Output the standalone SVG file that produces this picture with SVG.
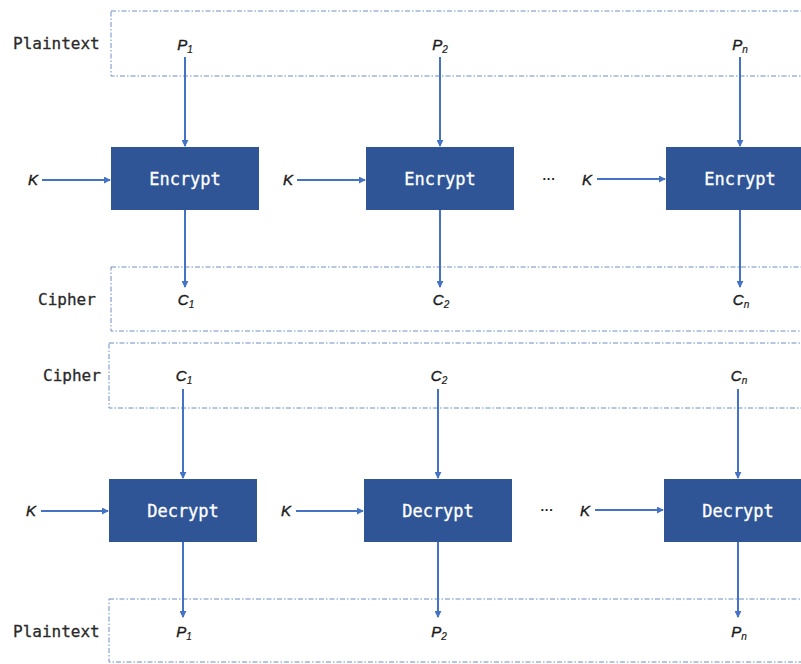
<svg xmlns="http://www.w3.org/2000/svg" width="801" height="664" viewBox="0 0 801 664">
  <defs>
    <marker id="arrow" viewBox="0 0 8 8" refX="7" refY="4" markerWidth="7" markerHeight="7" markerUnits="userSpaceOnUse" orient="auto">
      <path d="M0,0 L8,4 L0,8 z" fill="#4472C4"/>
    </marker>
    <style>
      .frame { fill: none; stroke: #6F8CC4; stroke-width: 1; stroke-dasharray: 5 2 1.5 2; }
      .box { fill: #2F5597; }
      .boxlabel { font-family: "DejaVu Sans Mono", "Liberation Mono", monospace; font-size: 17px; fill: #FFFFFF; text-anchor: middle; stroke: #FFFFFF; stroke-width: 0.3; }
      .rowlabel { font-family: "DejaVu Sans Mono", "Liberation Mono", monospace; font-size: 16px; fill: #2A2A2A; stroke: #2A2A2A; stroke-width: 0.3; }
      .sym { font-family: "Liberation Sans", Arial, sans-serif; font-style: italic; font-size: 15px; fill: #1A1A1A; text-anchor: middle; stroke: #1A1A1A; stroke-width: 0.4; }
      .sub { font-size: 10px; stroke-width: 0.2; }
      .dots { font-family: "Liberation Sans", Arial, sans-serif; font-weight: bold; font-size: 13px; fill: #1A1A1A; text-anchor: middle; }
      .link { stroke: #4472C4; stroke-width: 2; fill: none; marker-end: url(#arrow); }
    </style>
  </defs>

  <!-- dash-dot frames for each data row -->
  <g id="frames">
    <rect class="frame" x="111" y="11" width="720" height="65"/>
    <rect class="frame" x="111" y="267" width="720" height="64"/>
    <rect class="frame" x="109" y="343" width="720" height="65"/>
    <rect class="frame" x="109" y="599" width="720" height="63"/>
  </g>

  <!-- row labels -->
  <g id="row-labels">
    <text class="rowlabel" x="13" y="49">Plaintext</text>
    <text class="rowlabel" x="38" y="305">Cipher</text>
    <text class="rowlabel" x="43" y="381">Cipher</text>
    <text class="rowlabel" x="13" y="637">Plaintext</text>
  </g>

  <!-- encryption stage -->
  <g id="enc1">
    <rect class="box" x="111" y="147" width="148" height="63"/>
    <text class="boxlabel" x="185" y="185">Encrypt</text>
  </g>
  <g id="enc2">
    <rect class="box" x="366" y="147" width="148" height="63"/>
    <text class="boxlabel" x="440" y="185">Encrypt</text>
  </g>
  <g id="enc3">
    <rect class="box" x="666" y="147" width="148" height="63"/>
    <text class="boxlabel" x="740" y="185">Encrypt</text>
  </g>

  <!-- decryption stage -->
  <g id="dec1">
    <rect class="box" x="109" y="479" width="148" height="63"/>
    <text class="boxlabel" x="183" y="517">Decrypt</text>
  </g>
  <g id="dec2">
    <rect class="box" x="364" y="479" width="148" height="63"/>
    <text class="boxlabel" x="438" y="517">Decrypt</text>
  </g>
  <g id="dec3">
    <rect class="box" x="664" y="479" width="148" height="63"/>
    <text class="boxlabel" x="738" y="517">Decrypt</text>
  </g>

  <!-- symbols: plaintext blocks, cipher blocks, keys -->
  <g id="symbols">
    <text class="sym" x="185" y="50">P<tspan class="sub" dy="3">1</tspan></text>
    <text class="sym" x="440" y="50">P<tspan class="sub" dy="3">2</tspan></text>
    <text class="sym" x="740" y="50">P<tspan class="sub" dy="3">n</tspan></text>

    <text class="sym" x="186" y="305">C<tspan class="sub" dy="3">1</tspan></text>
    <text class="sym" x="441" y="305">C<tspan class="sub" dy="3">2</tspan></text>
    <text class="sym" x="741" y="305">C<tspan class="sub" dy="3">n</tspan></text>

    <text class="sym" x="184" y="381">C<tspan class="sub" dy="3">1</tspan></text>
    <text class="sym" x="439" y="381">C<tspan class="sub" dy="3">2</tspan></text>
    <text class="sym" x="739" y="381">C<tspan class="sub" dy="3">n</tspan></text>

    <text class="sym" x="184" y="637">P<tspan class="sub" dy="3">1</tspan></text>
    <text class="sym" x="439" y="637">P<tspan class="sub" dy="3">2</tspan></text>
    <text class="sym" x="739" y="637">P<tspan class="sub" dy="3">n</tspan></text>

    <text class="sym" x="33" y="185">K</text>
    <text class="sym" x="288" y="185">K</text>
    <text class="sym" x="587" y="185">K</text>
    <text class="dots" x="549" y="183">···</text>

    <text class="sym" x="31" y="516">K</text>
    <text class="sym" x="286" y="516">K</text>
    <text class="sym" x="585" y="516">K</text>
    <text class="dots" x="547" y="514">···</text>
  </g>

  <!-- connectors -->
  <g id="connectors">
    <line class="link" x1="185" y1="57" x2="185" y2="146"/>
    <line class="link" x1="440" y1="57" x2="440" y2="146"/>
    <line class="link" x1="740" y1="57" x2="740" y2="146"/>

    <line class="link" x1="185" y1="210" x2="185" y2="287"/>
    <line class="link" x1="440" y1="210" x2="440" y2="287"/>
    <line class="link" x1="740" y1="210" x2="740" y2="287"/>

    <line class="link" x1="42" y1="180" x2="110" y2="180"/>
    <line class="link" x1="297" y1="180" x2="365" y2="180"/>
    <line class="link" x1="597" y1="179" x2="665" y2="179"/>

    <line class="link" x1="183" y1="389" x2="183" y2="478"/>
    <line class="link" x1="438" y1="389" x2="438" y2="478"/>
    <line class="link" x1="738" y1="389" x2="738" y2="478"/>

    <line class="link" x1="183" y1="542" x2="183" y2="617"/>
    <line class="link" x1="438" y1="542" x2="438" y2="617"/>
    <line class="link" x1="738" y1="542" x2="738" y2="617"/>

    <line class="link" x1="41" y1="511" x2="108" y2="511"/>
    <line class="link" x1="296" y1="511" x2="363" y2="511"/>
    <line class="link" x1="595" y1="510" x2="663" y2="510"/>
  </g>
</svg>
